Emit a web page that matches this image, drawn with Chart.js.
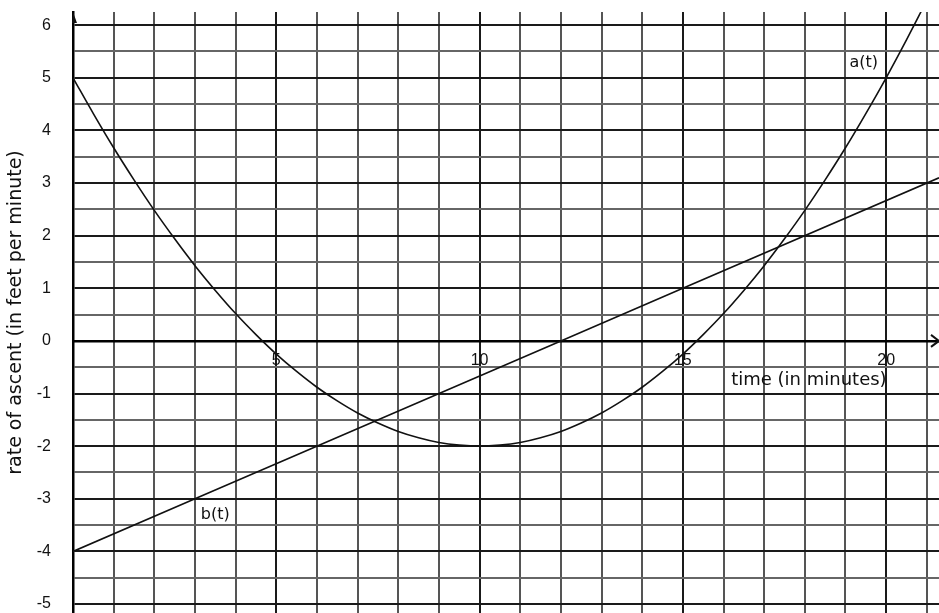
<!DOCTYPE html>
<html>
<head>
<meta charset="utf-8">
<script src="https://cdn.jsdelivr.net/npm/chart.js@4.4.0/dist/chart.umd.min.js"></script>
<style>
  body { margin: 0; background: #fff; }
  #wrap { width: 939px; height: 613px; position: relative; }
</style>
</head>
<body>
<div id="wrap"><canvas id="ascent"></canvas></div>
<script>
// values
const timeValues = [0, 0.5, 1, 1.5, 2, 2.5, 3, 3.5, 4, 4.5, 5, 5.5, 6, 6.5, 7, 7.5, 8, 8.5, 9, 9.5, 10,
    10.5, 11, 11.5, 12, 12.5, 13, 13.5, 14, 14.5, 15, 15.5, 16, 16.5, 17, 17.5, 18, 18.5, 19, 19.5, 20, 20.5, 21];
const aValues = [5, 4.32, 3.67, 3.06, 2.48, 1.94, 1.43, 0.96, 0.52, 0.12, -0.25, -0.58, -0.88, -1.14, -1.37, -1.56,
    -1.72, -1.84, -1.93, -1.98, -2, -1.98, -1.93, -1.84, -1.72, -1.56, -1.37, -1.14, -0.88, -0.58, -0.25,
    0.12, 0.52, 0.96, 1.43, 1.94, 2.48, 3.06, 3.67, 4.32, 5, 5.72, 6.47];
const bTimes = [0, 3, 12, 15, 21.3];
const bValues = [-4, -3, 0, 1, 3.1];

const xGridValues = [0, 1, 2, 3, 4, 5, 6, 7, 8, 9, 10, 11, 12, 13, 14, 15, 16, 17, 18, 19, 20, 21];
const xTickLabels = [5, 10, 15, 20];
const yGridValues = [-5, -4.5, -4, -3.5, -3, -2.5, -2, -1.5, -1, -0.5, 0, 0.5, 1, 1.5, 2, 2.5, 3, 3.5, 4, 4.5, 5, 5.5, 6];
const yTickLabels = [-5, -4, -3, -2, -1, 0, 1, 2, 3, 4, 5, 6];

// text written on the paper, placed in data units
const notes = [
    { text: 'a(t)', x: 19.45, y: 5.28, size: 16 },
    { text: 'b(t)', x: 3.5, y: -3.3, size: 16 },
    { text: 'time (in minutes)', x: 18.1, y: -0.75, size: 18 }
];

const decorations = {
    id: 'decorations',
    afterDatasetsDraw(chart) {
        const { ctx, chartArea, scales } = chart;
        const x = scales.x, y = scales.y;
        ctx.save();
        ctx.fillStyle = '#111';
        ctx.strokeStyle = '#111';
        // arrow on top of the y axis
        const ax = x.getPixelForValue(0);
        ctx.beginPath();
        ctx.moveTo(ax, chartArea.top);
        ctx.lineTo(ax + 4, chartArea.top + 11);
        ctx.lineTo(ax - 1, chartArea.top + 11);
        ctx.closePath();
        ctx.fill();
        // arrow at the right end of the x axis
        const ay = y.getPixelForValue(0);
        ctx.lineWidth = 2;
        ctx.beginPath();
        ctx.moveTo(chartArea.right - 8, ay - 6);
        ctx.lineTo(chartArea.right, ay);
        ctx.lineTo(chartArea.right - 8, ay + 6);
        ctx.stroke();
        ctx.textAlign = 'center';
        ctx.textBaseline = 'middle';
        notes.forEach(n => {
            ctx.font = n.size + 'px "DejaVu Sans"';
            ctx.fillText(n.text, x.getPixelForValue(n.x), y.getPixelForValue(n.y));
        });
        ctx.restore();
    }
};

const ctx = document.getElementById('ascent');

new Chart(ctx, {
    type: 'line',
    data: {
        datasets: [{
            label: 'a(t)',
            data: timeValues.map((t, i) => ({ x: t, y: aValues[i] })),
            borderColor: '#111',
            borderWidth: 1.6,
            pointRadius: 0,
            tension: 0.4,
            fill: false
        }, {
            label: 'b(t)',
            data: bTimes.map((t, i) => ({ x: t, y: bValues[i] })),
            borderColor: '#111',
            borderWidth: 1.6,
            pointRadius: 0,
            tension: 0,
            fill: false
        }]
    },
    options: {
        responsive: true,
        maintainAspectRatio: false,
        animation: false,
        layout: { padding: 0 },
        plugins: {
            legend: { display: false },
            tooltip: { enabled: false }
        },
        scales: {
            x: {
                type: 'linear',
                position: { y: 0 },
                min: 0,
                max: 21.3,
                afterBuildTicks: scale => {
                    scale.ticks = xGridValues.map(v => ({ value: v }));
                },
                afterFit: scale => {
                    scale.paddingLeft = 0;
                    scale.paddingRight = 0;
                },
                ticks: {
                    autoSkip: false,
                    maxRotation: 0,
                    padding: 10,
                    color: '#111',
                    font: { family: 'Liberation Sans', size: 16 },
                    callback: v => xTickLabels.includes(v) ? String(v) : ''
                },
                grid: {
                    drawTicks: false,
                    lineWidth: 2,
                    color: c => (c.tick && c.tick.value % 5 === 0) ? '#1a1a1a' : '#555'
                },
                border: { color: '#000', width: 2.5 }
            },
            y: {
                type: 'linear',
                min: -5.17,
                max: 6.25,
                afterBuildTicks: scale => {
                    scale.ticks = yGridValues.map(v => ({ value: v }));
                },
                afterFit: scale => {
                    scale.width = 73;
                    scale.paddingTop = 12;
                    scale.paddingBottom = 0;
                },
                ticks: {
                    autoSkip: false,
                    padding: 2,
                    color: '#111',
                    font: { family: 'Liberation Sans', size: 16 },
                    callback: v => yTickLabels.includes(v) ? String(v) : ''
                },
                grid: {
                    drawTicks: true,
                    tickLength: 20,
                    tickColor: 'rgba(0,0,0,0)',
                    lineWidth: 2,
                    color: c => (c.tick && Number.isInteger(c.tick.value)) ? '#1a1a1a' : '#666'
                },
                border: { color: '#000', width: 2.5 },
                title: {
                    display: true,
                    text: 'rate of ascent (in feet per minute)',
                    color: '#111',
                    font: { family: 'DejaVu Sans', size: 19 },
                    padding: { top: 5, bottom: 0 }
                }
            }
        }
    },
    plugins: [decorations]
});
</script>
</body>
</html>
